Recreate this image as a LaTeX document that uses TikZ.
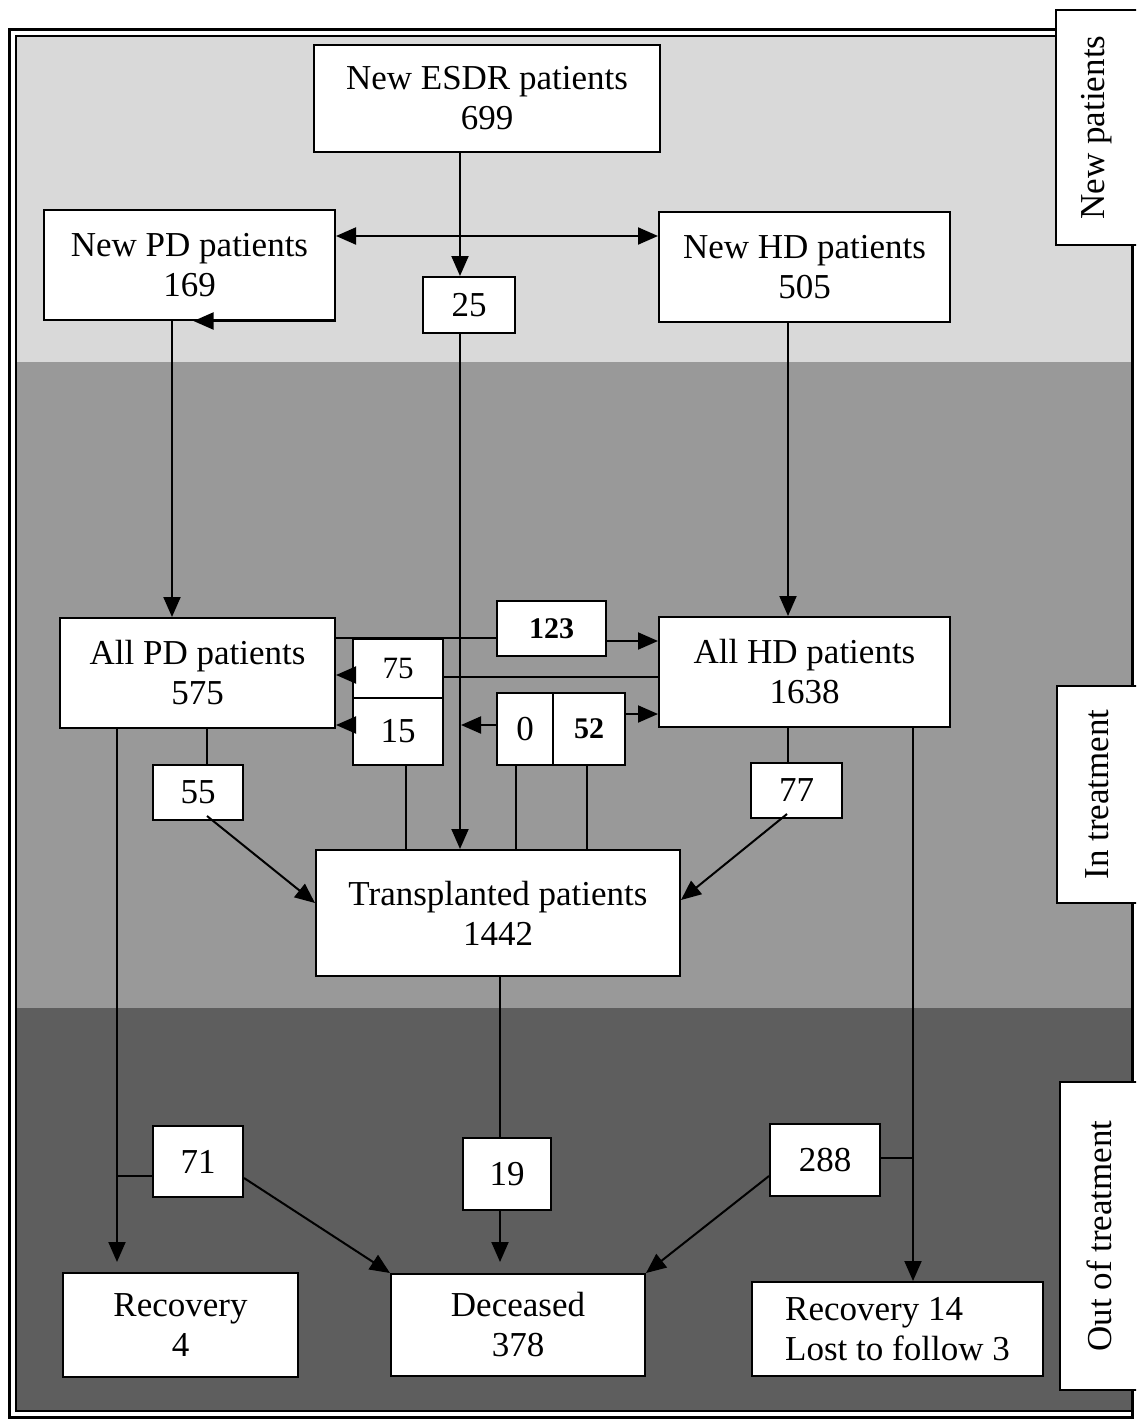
\documentclass[tikz,border=0pt]{standalone}
\usepackage{fontspec}
\setmainfont{Liberation Serif}
\usetikzlibrary{arrows.meta}
\definecolor{bandnew}{gray}{0.85}
\definecolor{bandin}{gray}{0.60}
\definecolor{bandout}{gray}{0.37}
\begin{document}
\begin{tikzpicture}[x=1pt, y=-1pt, align=center, font=\fontsize{35}{40}\selectfont]

\tikzstyle{box} = [rectangle, draw=black, line width=2pt, fill=white, inner sep=0pt, text centered]
\tikzstyle{smallbold} = [font=\fontsize{30}{34}\selectfont\bfseries]
\tikzstyle{sidelabel} = [box, rotate=90, line width=1.5pt]
\tikzstyle{arrow} = [line width=2pt, -{Triangle[length=20pt, width=17pt]}]
\tikzstyle{dblarrow} = [line width=2pt, {Triangle[length=20pt, width=17pt]}-{Triangle[length=20pt, width=17pt]}]
\tikzstyle{wire} = [line width=2pt]

\useasboundingbox (0,0) rectangle (1136,1421);
\fill[white] (0,0) rectangle (1136,1421);

% the three bands
\fill[bandnew] (16,36) rectangle (1131,362);
\fill[bandin] (16,362) rectangle (1131,1008);
\fill[bandout] (16,1008) rectangle (1131,1411);
\draw[line width=3pt] (9.5,29.5) rectangle (1132.5,1417);
\draw[line width=1.2pt] (1131,36) -- (16,36) -- (16,1411) -- (1131,1411);

\node (esdr) [box, minimum width=346pt, minimum height=107pt] at (487,98.5) {New ESDR patients\\699};
\node (newpd) [box, minimum width=291pt, minimum height=110pt] at (189.5,265) {New PD patients\\169};
\node (newhd) [box, minimum width=291pt, minimum height=110pt] at (804.5,267) {New HD patients\\505};
\node (n25) [box, minimum width=92pt, minimum height=56pt] at (469,305) {25};

\node (allpd) [box, minimum width=275pt, minimum height=110pt] at (197.5,673) {All PD patients\\575};
\node (allhd) [box, minimum width=291pt, minimum height=110pt] at (804.5,672) {All HD patients\\1638};
\node (n123) [box, smallbold, minimum width=109pt, minimum height=55pt] at (551.5,628.5) {123};
\node (n75) [box, minimum width=90pt, minimum height=59pt, font=\fontsize{31}{36}\selectfont] at (398,668.5) {75};
\node (n15) [box, minimum width=90pt, minimum height=67pt] at (398,731.5) {15};
\node (n0) [box, minimum width=56pt, minimum height=72pt] at (525,729) {0};
\node (n52) [box, smallbold, minimum width=72pt, minimum height=72pt] at (589,729) {52};
\node (n55) [box, minimum width=90pt, minimum height=55pt] at (198,792.5) {55};
\node (n77) [box, minimum width=91pt, minimum height=55pt] at (796.5,790.5) {77};
\node (transpl) [box, minimum width=364pt, minimum height=126pt] at (498,913) {Transplanted patients\\1442};

\node (n71) [box, minimum width=90pt, minimum height=71pt] at (198,1161.5) {71};
\node (n19) [box, minimum width=88pt, minimum height=72pt] at (507,1174) {19};
\node (n288) [box, minimum width=110pt, minimum height=72pt] at (825,1160) {288};
\node (recpd) [box, minimum width=235pt, minimum height=104pt] at (180.5,1325) {Recovery\\4};
\node (deceased) [box, minimum width=254pt, minimum height=102pt] at (518,1325) {Deceased\\378};
\node (rechd) [box, align=left, minimum width=291pt, minimum height=94pt] at (897.5,1329) {Recovery 14\\Lost to follow 3};

\begin{scope}
\clip (0,0) rectangle (1136,1421);
\node (newpat) [sidelabel, minimum width=235pt, minimum height=82pt] at (1097,127.5) {New patients};
\node (intreat) [sidelabel, minimum width=217pt, minimum height=81pt] at (1097.5,794.5) {In treatment};
\node (outtreat) [sidelabel, minimum width=308pt, minimum height=78pt] at (1099,1236) {Out of treatment};
\end{scope}

% new patients
\draw [arrow] ([xshift=-27pt]esdr.south) -- ([xshift=-9pt]n25.north);
\draw [dblarrow] ([yshift=29pt]newpd.east) -- ([yshift=31pt]newhd.west);
\draw [arrow] (newpd.south east) -- ([xshift=4pt]newpd.south);
\draw [arrow] ([xshift=-17.5pt]newpd.south) -- ([xshift=-25.5pt]allpd.north);
\draw [arrow] ([xshift=-16.5pt]newhd.south) -- ([xshift=-16.5pt]allhd.north);
\draw [arrow] ([xshift=-9pt]n25.south) -- ([xshift=-38pt]transpl.north);

% switches between PD and HD
\draw [wire] ([yshift=35pt]allpd.east) -- ([yshift=-9.5pt]n123.west);
\draw [arrow] ([yshift=-12.5pt]n123.east) -- ([yshift=31pt]allhd.west);
\draw [wire] ([yshift=-5pt]allhd.west) -- ([yshift=-8.5pt]n75.east);
\draw [arrow] ([yshift=-6.5pt]n75.west) -- ([yshift=-2pt]allpd.east);
\draw [arrow] ([yshift=6.5pt]n15.west) -- ([yshift=-52pt]allpd.east);
\draw [arrow] ([yshift=4pt]n0.west) -- ([xshift=-35pt,yshift=4pt]n0.west);
\draw [arrow] ([yshift=15pt]n52.east) -- ([yshift=-42pt]allhd.west);

% to and from transplantation
\draw [wire] ([xshift=8pt]n15.south) -- ([xshift=-92pt]transpl.north);
\draw [wire] ([xshift=-9pt]n0.south) -- ([xshift=18pt]transpl.north);
\draw [wire] ([xshift=-2pt]n52.south) -- ([xshift=89pt]transpl.north);
\draw [wire] ([xshift=9.5pt]allpd.south) -- ([xshift=9pt]n55.north);
\draw [arrow] ([xshift=9pt,yshift=5pt]n55.south) -- ([yshift=10pt]transpl.west);
\draw [wire] ([xshift=-16.5pt]allhd.south) -- ([xshift=-8.5pt]n77.north);
\draw [arrow] ([xshift=-9.5pt,yshift=5pt]n77.south) -- ([yshift=13pt]transpl.east);

% out of treatment
\draw [arrow] ([xshift=-80.5pt]allpd.south) -- ([xshift=-63.5pt,yshift=10pt]recpd.north);
\draw [wire] ([yshift=-14.5pt]n71.west) -- ([xshift=-36pt,yshift=-14.5pt]n71.west);
\draw [arrow] ([yshift=-16.5pt]n71.east) -- (deceased.north west);
\draw [wire] ([xshift=2pt]transpl.south) -- ([xshift=-7pt]n19.north);
\draw [arrow] ([xshift=-7pt]n19.south) -- ([xshift=-18pt,yshift=11pt]deceased.north);
\draw [arrow] ([xshift=108.5pt]allhd.south) -- ([xshift=15.5pt]rechd.north);
\draw [wire] ([yshift=2pt]n288.east) -- ([xshift=33pt,yshift=2pt]n288.east);
\draw [arrow] ([yshift=-16pt]n288.west) -- (deceased.north east);
\end{tikzpicture}
\end{document}
